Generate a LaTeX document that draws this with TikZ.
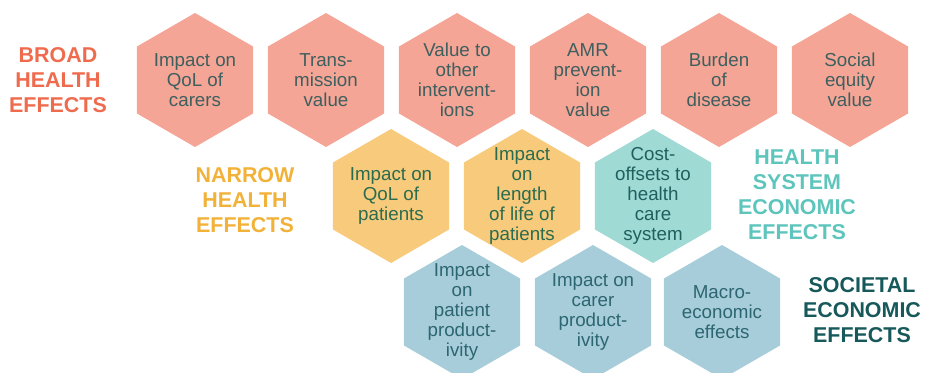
\documentclass[tikz,border=0pt]{standalone}
\usepackage{fontspec}
\setmainfont{Liberation Sans}
\usetikzlibrary{shapes.geometric}

\definecolor{broadfill}{HTML}{F4A596}
\definecolor{narrowfill}{HTML}{F7CB7B}
\definecolor{hsysfill}{HTML}{9FDAD5}
\definecolor{socfill}{HTML}{A8CDDA}
\definecolor{broadtext}{HTML}{3E5F5E}
\definecolor{narrowtext}{HTML}{2C6B4E}
\definecolor{hsystext}{HTML}{1F605F}
\definecolor{soctext}{HTML}{2C6670}
\definecolor{broadhead}{HTML}{EF6B4E}
\definecolor{narrowhead}{HTML}{F2B23A}
\definecolor{hsyshead}{HTML}{5EC5BD}
\definecolor{sochead}{HTML}{17585A}

\tikzset{
  hexa/.style={regular polygon, regular polygon sides=6, shape border rotate=30,
    minimum size=4.02cm, inner sep=0pt, draw=none, fill=#1},
  hextext/.style={align=center, text=#1, font=\fontsize{16}{17}\selectfont, inner sep=0pt},
  heading/.style={align=center, text=#1, font=\fontsize{18.3}{21.3}\selectfont\bfseries, inner sep=0pt}
}

\begin{document}
\begin{tikzpicture}[x=0.03cm, y=-0.03cm]
\clip (0,0) rectangle (931,373);
% broad health effects
\node[hexa=broadfill, label={[hextext=broadtext]center:Impact on\\QoL of\\carers}] (carers) at (195,80) {};
\node[hexa=broadfill, label={[hextext=broadtext]center:Trans-\\mission\\value}] (transm) at (326,80) {};
\node[hexa=broadfill, label={[hextext=broadtext]center:Value to\\other\\intervent-\\ions}] (othint) at (457,80) {};
\node[hexa=broadfill, label={[hextext=broadtext]center:AMR\\prevent-\\ion\\value}] (amr) at (588,80) {};
\node[hexa=broadfill, label={[hextext=broadtext]center:Burden\\of\\disease}] (burden) at (719,80) {};
\node[hexa=broadfill, label={[hextext=broadtext]center:Social\\equity\\value}] (equity) at (850,80) {};
% narrow health effects and health system
\node[hexa=narrowfill, label={[hextext=narrowtext]center:Impact on\\QoL of\\patients}] (qolpat) at (391,196) {};
\node[hexa=narrowfill, label={[hextext=narrowtext]center:Impact\\on\\length\\of life of\\patients}] (lifepat) at (522,196) {};
\node[hexa=hsysfill, label={[hextext=hsystext]center:Cost-\\offsets to\\health\\care\\system}] (costoff) at (653,196) {};
% societal economic effects
\node[hexa=socfill, label={[hextext=soctext]center:Impact\\on\\patient\\product-\\ivity}] (patprod) at (462,312) {};
\node[hexa=socfill, label={[hextext=soctext]center:Impact on\\carer\\product-\\ivity}] (carprod) at (593,312) {};
\node[hexa=socfill, label={[hextext=soctext]center:Macro-\\economic\\effects}] (macro) at (722,312) {};
% headings
\node[heading=broadhead] (broad) at (58,80) {BROAD\\HEALTH\\EFFECTS};
\node[heading=narrowhead] (narrow) at (245,200) {NARROW\\HEALTH\\EFFECTS};
\node[heading=hsyshead] (hsys) at (797,195) {HEALTH\\SYSTEM\\ECONOMIC\\EFFECTS};
\node[heading=sochead] (soc) at (862,310) {SOCIETAL\\ECONOMIC\\EFFECTS};
\end{tikzpicture}
\end{document}
